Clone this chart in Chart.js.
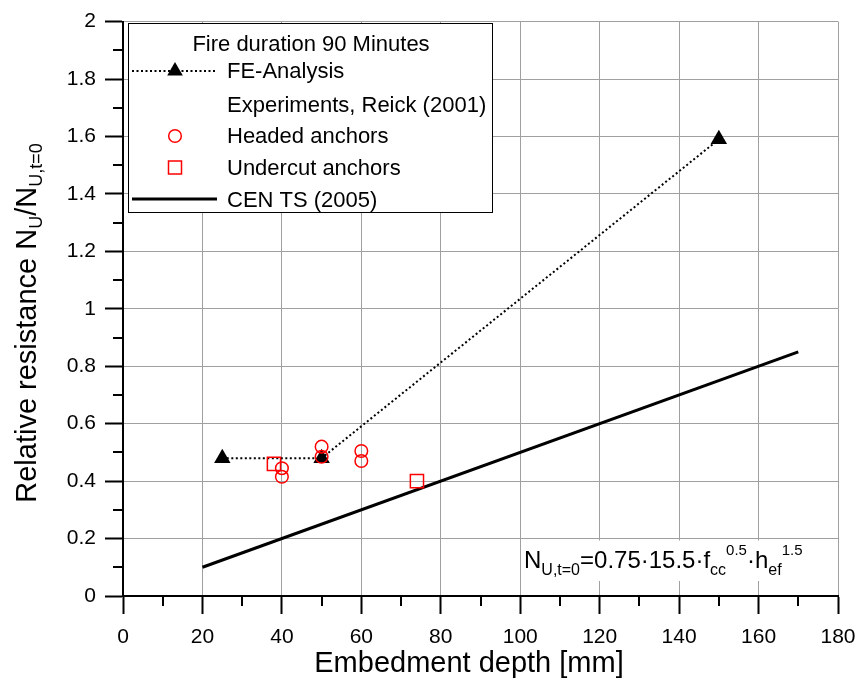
<!DOCTYPE html>
<html>
<head>
<meta charset="utf-8">
<script src="https://cdn.jsdelivr.net/npm/chart.js@4/dist/chart.umd.min.js"></script>
<style>
  html, body { margin: 0; padding: 0; background: #fff; }
</style>
</head>
<body>
<canvas id="chart" width="859" height="686"></canvas>
<script>
// values
const feDepth = [25, 50, 150];
const feRatio = [0.48, 0.48, 1.59];
const headedDepth = [40, 40, 50, 50, 60, 60];
const headedRatio = [0.445, 0.415, 0.52, 0.485, 0.505, 0.47];
const undercutDepth = [38, 74];
const undercutRatio = [0.46, 0.40];
const cenDepth = [20, 170];
const cenRatio = [0.10, 0.85];

const xTickLabels = ['0', '20', '40', '60', '80', '100', '120', '140', '160', '180'];
const yTickLabels = ['0', '0.2', '0.4', '0.6', '0.8', '1', '1.2', '1.4', '1.6', '1.8', '2'];

const FONT = "Arial, 'Liberation Sans', sans-serif";
const RED = '#ff0000';

function pts(xs, ys) {
  return xs.map((x, i) => ({ x: x, y: ys[i] }));
}

// draws a run of text pieces with sub/superscripts, returns end x
function richText(ctx, parts, x, y) {
  parts.forEach(p => {
    ctx.font = p.size + 'px ' + FONT;
    ctx.fillText(p.t, x, y + (p.dy || 0));
    x += ctx.measureText(p.t).width;
  });
  return x;
}
function richWidth(ctx, parts) {
  let w = 0;
  parts.forEach(p => {
    ctx.font = p.size + 'px ' + FONT;
    w += ctx.measureText(p.t).width;
  });
  return w;
}

const extras = {
  id: 'extras',
  beforeDatasetsDraw(chart) {
    // white box behind the formula
    const { ctx, chartArea, scales } = chart;
    const x0 = scales.x.getPixelForValue(100) + 1;
    const y0 = scales.y.getPixelForValue(0.2) + 2;
    ctx.save();
    ctx.fillStyle = '#fff';
    ctx.fillRect(x0, y0, chartArea.right - 1 - x0, chartArea.bottom - 15 - y0);
    ctx.restore();
  },
  afterDraw(chart) {
    const { ctx, chartArea, scales } = chart;
    ctx.save();

    // minor ticks
    ctx.strokeStyle = '#000';
    ctx.lineWidth = 2;
    ctx.beginPath();
    for (let v = 10; v < 180; v += 20) {
      const px = Math.round(scales.x.getPixelForValue(v));
      ctx.moveTo(px, chartArea.bottom);
      ctx.lineTo(px, chartArea.bottom + 10);
    }
    for (let v = 0.1; v < 2; v += 0.2) {
      const py = Math.round(scales.y.getPixelForValue(v));
      ctx.moveTo(chartArea.left - 10, py);
      ctx.lineTo(chartArea.left, py);
    }
    ctx.stroke();

    // formula
    ctx.fillStyle = '#000';
    ctx.textBaseline = 'alphabetic';
    richText(ctx, [
      { t: 'N', size: 24 },
      { t: 'U,t=0', size: 16, dy: 6.5 },
      { t: '=0.75\u00b715.5\u00b7f', size: 24 },
      { t: 'cc', size: 16, dy: 6.5 },
      { t: '0.5', size: 15, dy: -13 },
      { t: '\u00b7h', size: 24 },
      { t: 'ef', size: 16, dy: 6.5 },
      { t: '1.5', size: 15, dy: -13 }
    ], 524, 568);

    // legend
    const lx = 128, ly = 23, lw = 364, lh = 189;
    ctx.fillStyle = '#fff';
    ctx.fillRect(lx, ly, lw, lh);
    ctx.strokeStyle = '#000';
    ctx.lineWidth = 1;
    ctx.strokeRect(lx + 0.5, ly + 0.5, lw, lh);

    ctx.fillStyle = '#000';
    ctx.font = '22px ' + FONT;
    ctx.textAlign = 'center';
    ctx.fillText('Fire duration 90 Minutes', 311, 51);
    ctx.textAlign = 'left';
    const tx = 227, sx = 175;
    const rows = [
      ['FE-Analysis', 78],
      ['Experiments, Reick (2001)', 111.5],
      ['Headed anchors', 143],
      ['Undercut anchors', 175],
      ['CEN TS (2005)', 206.5]
    ];
    rows.forEach(r => ctx.fillText(r[0], tx, r[1]));

    // FE symbol
    ctx.strokeStyle = '#000';
    ctx.lineWidth = 2;
    ctx.setLineDash([2, 2.5]);
    ctx.beginPath();
    ctx.moveTo(132, 71);
    ctx.lineTo(217, 71);
    ctx.stroke();
    ctx.setLineDash([]);
    ctx.beginPath();
    ctx.moveTo(sx, 62);
    ctx.lineTo(sx + 7.8, 75.5);
    ctx.lineTo(sx - 7.8, 75.5);
    ctx.closePath();
    ctx.fill();
    // headed
    ctx.strokeStyle = RED;
    ctx.lineWidth = 1.5;
    ctx.beginPath();
    ctx.arc(sx, 136, 6.3, 0, Math.PI * 2);
    ctx.stroke();
    // undercut
    ctx.strokeRect(sx - 6.5, 161, 13, 13);
    // CEN
    ctx.strokeStyle = '#000';
    ctx.lineWidth = 3;
    ctx.beginPath();
    ctx.moveTo(132, 199);
    ctx.lineTo(217, 199);
    ctx.stroke();

    // axis titles
    ctx.fillStyle = '#000';
    ctx.font = '29px ' + FONT;
    ctx.textAlign = 'center';
    ctx.fillText('Embedment depth [mm]', 469, 672);

    const yParts = [
      { t: 'Relative resistance N', size: 29 },
      { t: 'U', size: 18, dy: 6 },
      { t: '/N', size: 29 },
      { t: 'U,t=0', size: 18, dy: 6 }
    ];
    ctx.textAlign = 'left';
    const w = richWidth(ctx, yParts);
    ctx.translate(36, 323);
    ctx.rotate(-Math.PI / 2);
    richText(ctx, yParts, -w / 2, 0);

    ctx.restore();
  }
};

const ctx = document.getElementById('chart').getContext('2d');
new Chart(ctx, {
  type: 'scatter',
  data: {
    datasets: [
      {
        label: 'Undercut anchors',
        data: pts(undercutDepth, undercutRatio),
        pointStyle: 'rect',
        pointRadius: 9.3,
        pointBorderColor: RED,
        pointBackgroundColor: 'rgba(0,0,0,0)',
        pointBorderWidth: 1.5,
        showLine: false,
        order: 1
      },
      {
        label: 'Headed anchors',
        data: pts(headedDepth, headedRatio),
        pointStyle: 'circle',
        pointRadius: 6.3,
        pointBorderColor: RED,
        pointBackgroundColor: 'rgba(0,0,0,0)',
        pointBorderWidth: 1.5,
        showLine: false,
        order: 2
      },
      {
        label: 'FE-Analysis',
        data: pts(feDepth, feRatio),
        showLine: true,
        borderColor: '#000',
        borderWidth: 2,
        borderDash: [2, 2.5],
        pointStyle: 'triangle',
        pointRadius: 9.5,
        pointBackgroundColor: '#000',
        pointBorderColor: '#000',
        pointBorderWidth: 0,
        order: 3
      },
      {
        label: 'CEN TS (2005)',
        data: pts(cenDepth, cenRatio),
        showLine: true,
        borderColor: '#000',
        borderWidth: 3,
        pointRadius: 0,
        order: 4
      }
    ]
  },
  options: {
    responsive: false,
    animation: false,
    layout: { padding: { top: 18, right: 21, left: 0, bottom: 0 } },
    plugins: {
      legend: { display: false },
      tooltip: { enabled: false }
    },
    scales: {
      x: {
        type: 'linear',
        min: 0,
        max: 180,
        ticks: {
          stepSize: 20,
          callback: (v, i) => xTickLabels[i],
          font: { size: 21, family: FONT },
          color: '#000',
          padding: 11,
          maxRotation: 0,
          autoSkip: false
        },
        grid: { color: '#a0a0a0', lineWidth: 1, tickColor: '#000', tickWidth: 2, tickLength: 18 },
        border: { color: '#000', width: 2 },
        afterFit: s => { s.height = 90; s.paddingLeft = 0; s.paddingRight = 0; }
      },
      y: {
        type: 'linear',
        min: 0,
        max: 2,
        ticks: {
          stepSize: 0.2,
          callback: (v, i) => yTickLabels[i],
          font: { size: 21, family: FONT },
          color: '#000',
          padding: 9,
          autoSkip: false
        },
        grid: { color: '#a0a0a0', lineWidth: 1, tickColor: '#000', tickWidth: 2, tickLength: 18 },
        border: { color: '#000', width: 2 },
        afterFit: s => { s.width = 123; }
      }
    }
  },
  plugins: [extras]
});
</script>
</body>
</html>
